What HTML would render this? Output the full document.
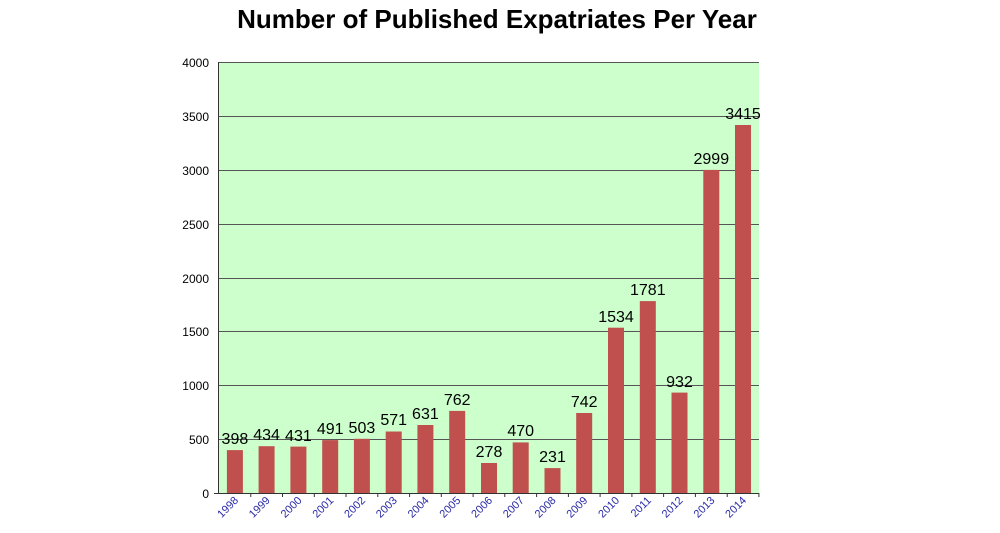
<!DOCTYPE html>
<html><head><style>body{margin:0;background:#fff}svg{display:block}</style></head><body>
<svg width="1000" height="533" xmlns="http://www.w3.org/2000/svg" font-family="Liberation Sans, Arial, sans-serif">
<text x="497" y="28" font-size="26" font-weight="bold" text-anchor="middle">Number of Published Expatriates Per Year</text>
<rect x="219" y="62" width="540" height="431" fill="#ccffcc"/>
<g stroke="#555" stroke-width="1">
<line x1="219" x2="759" y1="62.5" y2="62.5"/>
<line x1="219" x2="759" y1="116.5" y2="116.5"/>
<line x1="219" x2="759" y1="170.5" y2="170.5"/>
<line x1="219" x2="759" y1="224.5" y2="224.5"/>
<line x1="219" x2="759" y1="278.5" y2="278.5"/>
<line x1="219" x2="759" y1="331.5" y2="331.5"/>
<line x1="219" x2="759" y1="385.5" y2="385.5"/>
<line x1="219" x2="759" y1="439.5" y2="439.5"/>
</g>
<g fill="#c0504d">
<rect x="226.9" y="450.1" width="16" height="42.9"/>
<rect x="258.6" y="446.2" width="16" height="46.8"/>
<rect x="290.4" y="446.6" width="16" height="46.4"/>
<rect x="322.2" y="440.1" width="16" height="52.9"/>
<rect x="353.9" y="438.8" width="16" height="54.2"/>
<rect x="385.7" y="431.5" width="16" height="61.5"/>
<rect x="417.4" y="425.0" width="16" height="68.0"/>
<rect x="449.2" y="410.9" width="16" height="82.1"/>
<rect x="481.0" y="463.0" width="16" height="30.0"/>
<rect x="512.7" y="442.4" width="16" height="50.6"/>
<rect x="544.5" y="468.1" width="16" height="24.9"/>
<rect x="576.2" y="413.0" width="16" height="80.0"/>
<rect x="608.0" y="327.7" width="16" height="165.3"/>
<rect x="639.8" y="301.1" width="16" height="191.9"/>
<rect x="671.5" y="392.6" width="16" height="100.4"/>
<rect x="703.3" y="169.9" width="16" height="323.1"/>
<rect x="735.0" y="125.0" width="16" height="368.0"/>
</g>
<g font-size="16" text-anchor="middle">
<text x="234.9" y="444">398</text>
<text x="266.6" y="440">434</text>
<text x="298.4" y="441">431</text>
<text x="330.2" y="434">491</text>
<text x="361.9" y="433">503</text>
<text x="393.7" y="425">571</text>
<text x="425.4" y="419">631</text>
<text x="457.2" y="405">762</text>
<text x="489.0" y="457">278</text>
<text x="520.7" y="436">470</text>
<text x="552.5" y="462">231</text>
<text x="584.2" y="407">742</text>
<text x="616.0" y="322">1534</text>
<text x="647.8" y="295">1781</text>
<text x="679.5" y="387">932</text>
<text x="711.3" y="164">2999</text>
<text x="743.0" y="119">3415</text>
</g>
<line x1="218.5" x2="218.5" y1="62" y2="493" stroke="#333"/>
<line x1="214" x2="759" y1="493.5" y2="493.5" stroke="#333"/>
<g stroke="#333">
<line x1="250.8" x2="250.8" y1="493" y2="497"/><line x1="282.5" x2="282.5" y1="493" y2="497"/><line x1="314.3" x2="314.3" y1="493" y2="497"/><line x1="346" x2="346" y1="493" y2="497"/><line x1="377.8" x2="377.8" y1="493" y2="497"/><line x1="409.6" x2="409.6" y1="493" y2="497"/><line x1="441.3" x2="441.3" y1="493" y2="497"/><line x1="473.1" x2="473.1" y1="493" y2="497"/><line x1="504.8" x2="504.8" y1="493" y2="497"/><line x1="536.6" x2="536.6" y1="493" y2="497"/><line x1="568.4" x2="568.4" y1="493" y2="497"/><line x1="600.1" x2="600.1" y1="493" y2="497"/><line x1="631.9" x2="631.9" y1="493" y2="497"/><line x1="663.6" x2="663.6" y1="493" y2="497"/><line x1="695.4" x2="695.4" y1="493" y2="497"/><line x1="727.2" x2="727.2" y1="493" y2="497"/><line x1="758.9" x2="758.9" y1="493" y2="497"/>
</g>
<g font-size="12" text-anchor="end">
<text x="209" y="67">4000</text><text x="209" y="121">3500</text><text x="209" y="175">3000</text><text x="209" y="229">2500</text><text x="209" y="283">2000</text><text x="209" y="336">1500</text><text x="209" y="390">1000</text><text x="209" y="444">500</text><text x="209" y="498">0</text>
</g>
<g font-size="11" fill="#2a2aa8" text-anchor="end">
<text transform="translate(239,501) rotate(-45)">1998</text>
<text transform="translate(270.6,501) rotate(-45)">1999</text>
<text transform="translate(302.4,501) rotate(-45)">2000</text>
<text transform="translate(334.2,501) rotate(-45)">2001</text>
<text transform="translate(365.9,501) rotate(-45)">2002</text>
<text transform="translate(397.7,501) rotate(-45)">2003</text>
<text transform="translate(429.4,501) rotate(-45)">2004</text>
<text transform="translate(461.2,501) rotate(-45)">2005</text>
<text transform="translate(493,501) rotate(-45)">2006</text>
<text transform="translate(524.7,501) rotate(-45)">2007</text>
<text transform="translate(556.5,501) rotate(-45)">2008</text>
<text transform="translate(588.2,501) rotate(-45)">2009</text>
<text transform="translate(620,501) rotate(-45)">2010</text>
<text transform="translate(651.8,501) rotate(-45)">2011</text>
<text transform="translate(683.5,501) rotate(-45)">2012</text>
<text transform="translate(715.3,501) rotate(-45)">2013</text>
<text transform="translate(747,501) rotate(-45)">2014</text>
</g>
</svg>
</body></html>
